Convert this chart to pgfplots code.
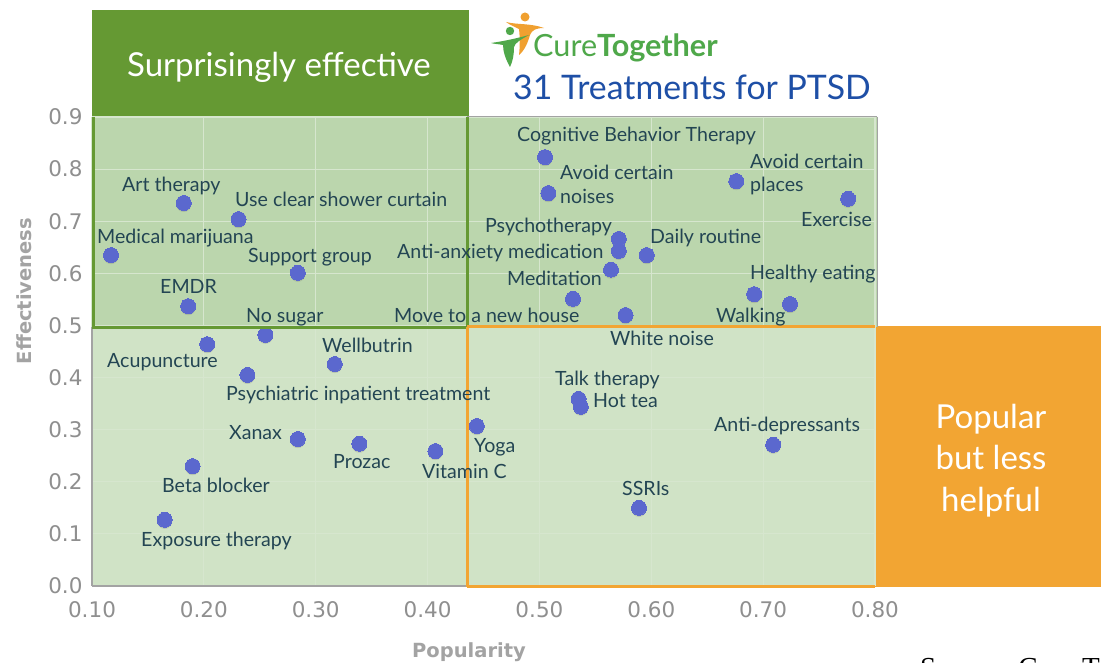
\documentclass[border=0pt]{standalone}
\usepackage{pgfplots}
\usepackage{pgfplotstable}
\usepackage{fontspec}
\pgfplotsset{compat=1.18}
\setmainfont{Lato}
\newfontfamily\srcfont{Liberation Serif}
\newfontfamily\tickfont{DejaVu Sans}
\definecolor{dkgreen}{HTML}{659933}
\definecolor{borange}{HTML}{F2A533}
\definecolor{panelA}{HTML}{BBD6AD}
\definecolor{panelB}{HTML}{D0E3C6}
\definecolor{gridc}{HTML}{D6E6CE}
\definecolor{dot}{HTML}{5B68CE}
\definecolor{txt}{HTML}{234553}
\definecolor{tick}{HTML}{8F8F8F}
\definecolor{axl}{HTML}{A3A3A3}
\definecolor{logog}{HTML}{4FA84A}
\definecolor{logoo}{HTML}{F0A030}
\definecolor{ttl}{HTML}{1E4FA6}
\pgfplotstableread{
x y
0.505 0.823
0.508 0.754
0.676 0.777
0.776 0.743
0.571 0.666
0.571 0.643
0.596 0.635
0.564 0.607
0.692 0.560
0.724 0.541
0.530 0.551
0.577 0.520
0.182 0.735
0.231 0.704
0.117 0.635
0.284 0.601
0.186 0.537
0.255 0.482
0.203 0.464
0.317 0.426
0.239 0.405
0.284 0.282
0.339 0.273
0.407 0.259
0.444 0.307
0.190 0.230
0.165 0.127
0.535 0.359
0.537 0.344
0.709 0.271
0.589 0.150
}\pts
% px coordinates of the reference: x from left, y from top
\newcommand{\R}[5]{\fill[#1] (#2pt,{662pt-#3pt}) rectangle (#4pt,{662pt-#5pt});}
\newcommand{\Ln}[5]{\draw[#1] (#2pt,{662pt-#3pt}) -- (#4pt,{662pt-#5pt});}
\newcommand{\lab}[3]{\node[anchor=base west,inner sep=0pt,text=txt,font=\fontsize{19.6}{21}\selectfont] at (#1pt,{661pt-#2pt}) {#3};}
\begin{document}
\begin{tikzpicture}
\useasboundingbox (0,0) rectangle (1101pt,662pt);
\fill[white] (0,0) rectangle (1101pt,662pt);
\R{dkgreen}{92}{10}{469}{117}
\R{borange}{875}{326}{1101}{587}
\R{panelA}{92}{117}{877}{327}
\R{panelB}{92}{327}{875}{586}
\begin{axis}[
  at={(92pt,76pt)},anchor=south west,
  scale only axis,width=783pt,height=469pt,
  xmin=0.1,xmax=0.8,ymin=0,ymax=0.9,
  xtick={0.1,0.2,...,0.8},ytick={0,0.1,...,0.9},
  xticklabel style={/pgf/number format/fixed,/pgf/number format/fixed zerofill,/pgf/number format/precision=2},
  yticklabel style={/pgf/number format/fixed,/pgf/number format/fixed zerofill,/pgf/number format/precision=1},
  /pgf/number format/assume math mode=true,
  ticklabel style={text=tick,font=\tickfont\fontsize{21.5}{23}\selectfont},
  tick style={draw=none},
  grid=major,grid style={gridc,line width=1.2pt},
  axis line style={draw=none},
  xticklabel shift=12pt,yticklabel shift=6pt,
  clip=false,
]
\addplot[only marks,mark=*,mark size=7.5pt,mark options={draw opacity=0,fill=gray,fill opacity=0.3},yshift=-1.5pt] table[x=x,y=y] {\pts};
\addplot[only marks,mark=*,mark size=7.5pt,mark options={draw=dot,line width=0pt,fill=dot}] table[x=x,y=y] {\pts};
\end{axis}
% borders
\Ln{axl,line width=1.5pt}{92}{327}{92}{586}
\Ln{axl,line width=1.5pt}{92}{586}{467}{586}
\Ln{axl,line width=1pt}{467}{117}{877}{117}
\Ln{axl,line width=1pt}{877}{117}{877}{327}
\Ln{dkgreen,line width=3pt}{93.5}{117}{93.5}{328}
\Ln{dkgreen,line width=3pt}{92}{327.5}{467}{327.5}
\Ln{dkgreen,line width=3pt}{467}{117}{467}{328}
\Ln{borange,line width=3pt}{467}{327}{875}{327}
\Ln{borange,line width=3pt}{467}{327}{467}{587}
\Ln{borange,line width=3pt}{467}{586}{875}{586}
% labels
\lab{517}{141}{Cognitive Behavior Therapy}
\lab{560}{179}{Avoid certain}
\lab{560}{203}{noises}
\lab{750}{168}{Avoid certain}
\lab{750}{191}{places}
\lab{801}{226}{Exercise}
\lab{485}{232}{Psychotherapy}
\lab{397}{258}{Anti-anxiety medication}
\lab{650}{243}{Daily routine}
\lab{507}{285}{Meditation}
\lab{750}{279}{Healthy eating}
\lab{716}{322}{Walking}
\lab{394}{322}{Move to a new house}
\lab{610}{345}{White noise}
\lab{122}{191}{Art therapy}
\lab{235}{206}{Use clear shower curtain}
\lab{97}{243}{Medical marijuana}
\lab{248}{262}{Support group}
\lab{160}{293}{EMDR}
\lab{246}{322}{No sugar}
\lab{107}{367}{Acupuncture}
\lab{322}{352}{Wellbutrin}
\lab{226}{400}{Psychiatric inpatient treatment}
\lab{555}{385}{Talk therapy}
\lab{593}{407}{Hot tea}
\lab{229}{439}{Xanax}
\lab{474}{452}{Yoga}
\lab{333}{468}{Prozac}
\lab{422}{478}{Vitamin C}
\lab{714}{431}{Anti-depressants}
\lab{162}{492}{Beta blocker}
\lab{622}{495}{SSRIs}
\lab{141}{545}{Exposure therapy}
% big captions
\node[anchor=base,text=white,font=\fontsize{33}{36}\selectfont] at (279pt,{662pt-76.5pt}) {Surprisingly effective};
\node[anchor=base,text=white,font=\fontsize{33}{36}\selectfont] at (991pt,{662pt-429pt}) {Popular};
\node[anchor=base,text=white,font=\fontsize{33}{36}\selectfont] at (991pt,{662pt-470pt}) {but less};
\node[anchor=base,text=white,font=\fontsize{33}{36}\selectfont] at (991pt,{662pt-512pt}) {helpful};
% title and logo
\node[anchor=base west,inner sep=0pt,text=ttl,font=\fontsize{33.8}{36}\selectfont] at (513pt,{662pt-100pt}) {31 Treatments for PTSD};
\node[anchor=base west,inner sep=0pt,text=logog,font=\fontsize{30.6}{32}\selectfont] at (533pt,{662pt-57pt}) {Cure\textbf{Together}};
% orange figure
\fill[logoo] (525pt,{662pt-17pt}) circle (4.5pt);
\fill[logoo] (506pt,{662pt-22pt}) .. controls (518pt,{662pt-25pt}) and (530pt,{662pt-23pt}) .. (544pt,{662pt-28pt}) .. controls (536pt,{662pt-28pt}) and (532pt,{662pt-30pt}) .. (530pt,{662pt-35pt}) .. controls (528pt,{662pt-42pt}) and (525pt,{662pt-50pt}) .. (519pt,{662pt-55pt}) .. controls (520pt,{662pt-46pt}) and (520pt,{662pt-38pt}) .. (519pt,{662pt-29pt}) .. controls (515pt,{662pt-27pt}) and (510pt,{662pt-25pt}) .. (506pt,{662pt-22pt}) -- cycle;
% green figure
\fill[logog] (510pt,{662pt-31pt}) circle (4.2pt);
\fill[logog] (491pt,{662pt-43pt}) .. controls (505pt,{662pt-41pt}) and (518pt,{662pt-38pt}) .. (529pt,{662pt-35pt}) .. controls (520pt,{662pt-40pt}) and (515pt,{662pt-43pt}) .. (514pt,{662pt-47pt}) .. controls (514pt,{662pt-54pt}) and (513pt,{662pt-61pt}) .. (510pt,{662pt-67pt}) .. controls (506pt,{662pt-60pt}) and (503pt,{662pt-52pt}) .. (503pt,{662pt-45pt}) .. controls (498pt,{662pt-44pt}) and (494pt,{662pt-44pt}) .. (491pt,{662pt-43pt}) -- cycle;
% axis titles
\node[rotate=90,anchor=base,text=axl,font=\tickfont\fontsize{19.5}{22}\selectfont\bfseries] at (31pt,{662pt-291pt}) {Effectiveness};
\node[anchor=base,text=axl,font=\tickfont\fontsize{19.5}{22}\selectfont\bfseries] at (469pt,{662pt-657pt}) {Popularity};
\node[anchor=base west,inner sep=0pt,text=black,font=\srcfont\fontsize{29}{31}\selectfont] at (920pt,{662pt-677pt}) {Source: Cure Together};
\end{tikzpicture}
\end{document}
